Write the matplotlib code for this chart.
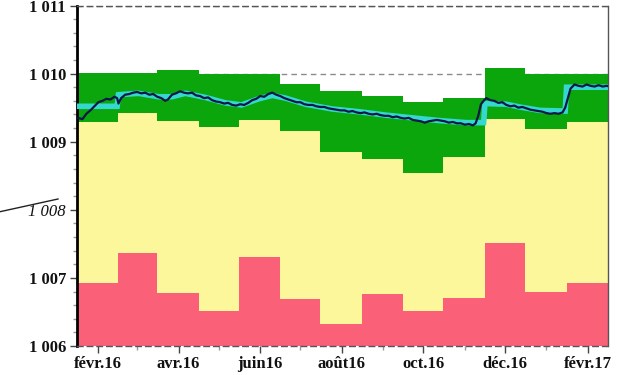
import numpy as np
import pandas as pd
import matplotlib
matplotlib.use("Agg")
import matplotlib.pyplot as plt
import matplotlib.dates as mdates
from matplotlib.lines import Line2D
from matplotlib.ticker import FixedLocator, MultipleLocator, FuncFormatter

# monthly bands (mid-month to mid-month)
band_edges = ["2016-01-16", "2016-02-16", "2016-03-16", "2016-04-16", "2016-05-16",
              "2016-06-16", "2016-07-16", "2016-08-16", "2016-09-16", "2016-10-16",
              "2016-11-16", "2016-12-16", "2017-01-16", "2017-02-16"]
red_top = [1006.92, 1007.36, 1006.78, 1006.51, 1007.30, 1006.69, 1006.33,
           1006.76, 1006.52, 1006.70, 1007.51, 1006.79, 1006.92]
yellow_top = [1009.29, 1009.42, 1009.30, 1009.22, 1009.32, 1009.16, 1008.85,
              1008.75, 1008.54, 1008.78, 1009.34, 1009.19, 1009.29]
green_top = [1010.01, 1010.01, 1010.05, 1010.00, 1010.00, 1009.85, 1009.75,
             1009.67, 1009.59, 1009.64, 1010.08, 1010.00, 1010.00]

# daily level (days counted from 17 Jan 2016)
level_days = [
    0, 3, 6, 9, 12, 15, 18, 21, 24, 27, 29, 30, 32, 35, 38, 41, 44, 47, 50, 53,
    56, 59, 62, 65, 67, 70, 73, 76, 79, 82, 85, 88, 91, 94, 97, 100, 103, 106, 109, 112,
    115, 118, 121, 124, 127, 130, 133, 136, 139, 142, 145, 148, 151, 154, 157, 160, 163, 166, 169, 172,
    175, 178, 181, 184, 187, 190, 193, 196, 199, 202, 205, 208, 211, 214, 217, 220, 223, 226, 229, 232,
    235, 238, 241, 244, 247, 250, 253, 256, 259, 262, 265, 268, 271, 274, 277, 280, 283, 286, 289, 292,
    295, 297, 299, 301, 303, 305, 308, 311, 314, 317, 320, 323, 326, 329, 332, 335, 338, 341, 344, 347,
    350, 353, 356, 359, 362, 364, 366, 368, 371, 374, 377, 380, 383, 386, 389, 392, 395, 397]
level = [
    1009.35, 1009.33, 1009.41, 1009.46, 1009.52, 1009.58, 1009.60, 1009.63, 1009.62, 1009.66,
    1009.64, 1009.56, 1009.64, 1009.69, 1009.70, 1009.72, 1009.73, 1009.71, 1009.72, 1009.69,
    1009.70, 1009.66, 1009.64, 1009.60, 1009.62, 1009.69, 1009.71, 1009.74, 1009.72, 1009.71,
    1009.72, 1009.68, 1009.67, 1009.64, 1009.65, 1009.61, 1009.59, 1009.58, 1009.56, 1009.57,
    1009.54, 1009.53, 1009.55, 1009.54, 1009.57, 1009.61, 1009.63, 1009.67, 1009.66, 1009.70,
    1009.72, 1009.69, 1009.67, 1009.64, 1009.62, 1009.60, 1009.58, 1009.58, 1009.55, 1009.54,
    1009.54, 1009.52, 1009.51, 1009.51, 1009.49, 1009.48, 1009.47, 1009.46, 1009.46, 1009.44,
    1009.45, 1009.43, 1009.42, 1009.43, 1009.41, 1009.40, 1009.41, 1009.39, 1009.38, 1009.38,
    1009.36, 1009.37, 1009.35, 1009.34, 1009.35, 1009.32, 1009.31, 1009.30, 1009.28, 1009.30,
    1009.31, 1009.32, 1009.31, 1009.30, 1009.28, 1009.29, 1009.27, 1009.27, 1009.25, 1009.26,
    1009.24, 1009.27, 1009.38, 1009.55, 1009.60, 1009.64, 1009.61, 1009.60, 1009.57, 1009.58,
    1009.54, 1009.52, 1009.53, 1009.50, 1009.51, 1009.49, 1009.47, 1009.46, 1009.45, 1009.44,
    1009.42, 1009.41, 1009.42, 1009.41, 1009.43, 1009.50, 1009.64, 1009.78, 1009.84, 1009.82,
    1009.81, 1009.84, 1009.82, 1009.81, 1009.83, 1009.81, 1009.82, 1009.81]

# smoothed level
smooth_days = [0, 29, 30, 45, 60, 70, 80, 95, 110, 122, 135, 145, 155, 170, 190,
               210, 230, 250, 270, 290, 303, 304, 320, 330, 345, 364, 365, 397]
smooth = [1009.52, 1009.52, 1009.69, 1009.71, 1009.66, 1009.66, 1009.71, 1009.65,
          1009.57, 1009.54, 1009.63, 1009.68, 1009.64, 1009.55, 1009.48, 1009.44,
          1009.39, 1009.35, 1009.31, 1009.28, 1009.28, 1009.56, 1009.55, 1009.51,
          1009.46, 1009.45, 1009.80, 1009.80]

tick_dates = ["2016-02-01", "2016-04-01", "2016-06-01", "2016-08-01",
              "2016-10-01", "2016-12-01", "2017-02-01"]
tick_labels = ["févr.16", "avr.16", "juin16", "août16", "oct.16", "déc.16", "févr.17"]

plt.rcParams["font.family"] = ["Liberation Serif", "DejaVu Serif"]

start = pd.Timestamp("2016-01-17")
edges = mdates.date2num(pd.to_datetime(band_edges))
level_x = mdates.date2num(start + pd.to_timedelta(level_days, unit="D"))
smooth_x = mdates.date2num(start + pd.to_timedelta(smooth_days, unit="D"))

fig = plt.figure(figsize=(6.23, 3.75), dpi=100)
ax = fig.add_axes([77 / 623, 1 - 346 / 375, (608 - 77) / 623, (346 - 5.5) / 375])

ax.set_axisbelow(True)
ax.yaxis.grid(True, which="major", linestyle=(0, (4, 3)), color="#8a8a8a", lw=1)

ax.stairs(red_top, edges, baseline=1006, fill=True, color="#fa6178", zorder=2)
ax.stairs(yellow_top, edges, baseline=red_top, fill=True, color="#fdf79b", zorder=2)
ax.stairs(green_top, edges, baseline=yellow_top, fill=True, color="#0ba60b", zorder=2)

ax.plot(smooth_x, smooth, color="#35d8cf", lw=4, solid_joinstyle="miter", zorder=3)
ax.plot(level_x, level, color="#0d1848", lw=1.6, zorder=4)

ax.set_xlim(edges[0], edges[-1])
ax.set_ylim(1006, 1011)

ax.yaxis.set_major_locator(MultipleLocator(1))
ax.yaxis.set_minor_locator(MultipleLocator(0.2))
ax.yaxis.set_major_formatter(FuncFormatter(lambda v, p: f"{int(round(v)):,}".replace(",", " ")))

ax.xaxis.set_major_locator(FixedLocator(mdates.date2num(pd.to_datetime(tick_dates))))
ax.xaxis.set_minor_locator(mdates.MonthLocator())
ax.set_xticklabels(tick_labels)

ax.tick_params(axis="both", which="major", length=5, width=1, color="#444444",
               labelsize=12, labelcolor="#111111")
ax.tick_params(axis="both", which="minor", length=3, width=1, color="#999999")
ax.tick_params(axis="y", pad=3)
ax.tick_params(axis="x", pad=2)

for lab in ax.get_xticklabels() + ax.get_yticklabels():
    lab.set_fontweight("bold")
    if lab.get_text() == "1 008":
        lab.set_style("italic")
        lab.set_fontweight("normal")

ax.spines["left"].set_linewidth(2)
ax.spines["left"].set_color("black")
ax.spines["right"].set_linewidth(1)
ax.spines["right"].set_color("#555555")
for side in ["top", "bottom"]:
    ax.spines[side].set_linestyle((0, (4, 3)))
    ax.spines[side].set_color("#555555")
    ax.spines[side].set_linewidth(1)

fig.add_artist(Line2D([0, 58 / 623], [1 - 211.7 / 375, 1 - 199 / 375],
                      color="#222222", lw=1))

fig.savefig("out.png", dpi=100)
